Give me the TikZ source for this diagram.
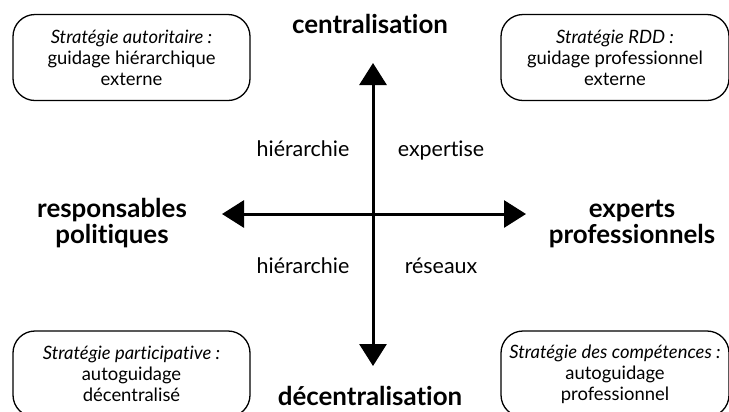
\documentclass[tikz,border=0pt]{standalone}
\usepackage{fontspec}
\setmainfont[Ligatures=NoCommon]{Lato}
\usetikzlibrary{arrows.meta}

\begin{document}
\begin{tikzpicture}[x=1bp,y=-1bp,
  strat/.style={draw,line width=1.3bp,rounded corners=22bp,minimum width=237bp,
    minimum height=86bp,align=center,inner sep=0pt,font=\fontsize{18.5}{21}\selectfont},
  pole/.style={align=center,font=\bfseries\fontsize{26}{27}\selectfont},
  zone/.style={anchor=base,font=\fontsize{21.5}{24}\selectfont},
  axe/.style={line width=3bp,{Triangle[length=22bp,width=27bp]}-{Triangle[length=22bp,width=27bp]}}]
  \useasboundingbox (0,0) rectangle (729,411);
  % les quatre strategies
  \node[strat] (auto) at (131.5,57.5) {\textit{Stratégie autoritaire :}\\guidage hiérarchique\\externe};
  \node[strat,minimum width=228bp] (rdd) at (615,57.5) {\textit{Stratégie RDD :}\\guidage professionnel\\externe};
  \node[strat] (part) at (131.5,374) {\textit{Stratégie participative :}\\autoguidage\\décentralisé};
  \node[strat,minimum width=228bp] (comp) at (615,374) {\textit{Stratégie des compétences :}\\autoguidage\\professionnel};
  % les axes
  \coordinate (haut) at (373,63);
  \coordinate (bas) at (373,366);
  \coordinate (gauche) at (222,214);
  \coordinate (droite) at (526,214);
  \draw[axe] (bas) -- (haut);
  \draw[axe] (gauche) -- (droite);
  \node[pole,anchor=base] (centr) at (370,33) {centralisation};
  \node[pole,anchor=base,inner sep=0pt] (decentr) at (370,405) {décentralisation};
  \node[pole] (polit) at (112,223) {responsables\\politiques};
  \node[pole] (experts) at (632,224) {experts\\professionnels};
  \node[zone] (hier1) at (303,156) {hiérarchie};
  \node[zone] (exp) at (441,156) {expertise};
  \node[zone] (hier2) at (303,273) {hiérarchie};
  \node[zone] (res) at (441,273) {réseaux};
\end{tikzpicture}
\end{document}
